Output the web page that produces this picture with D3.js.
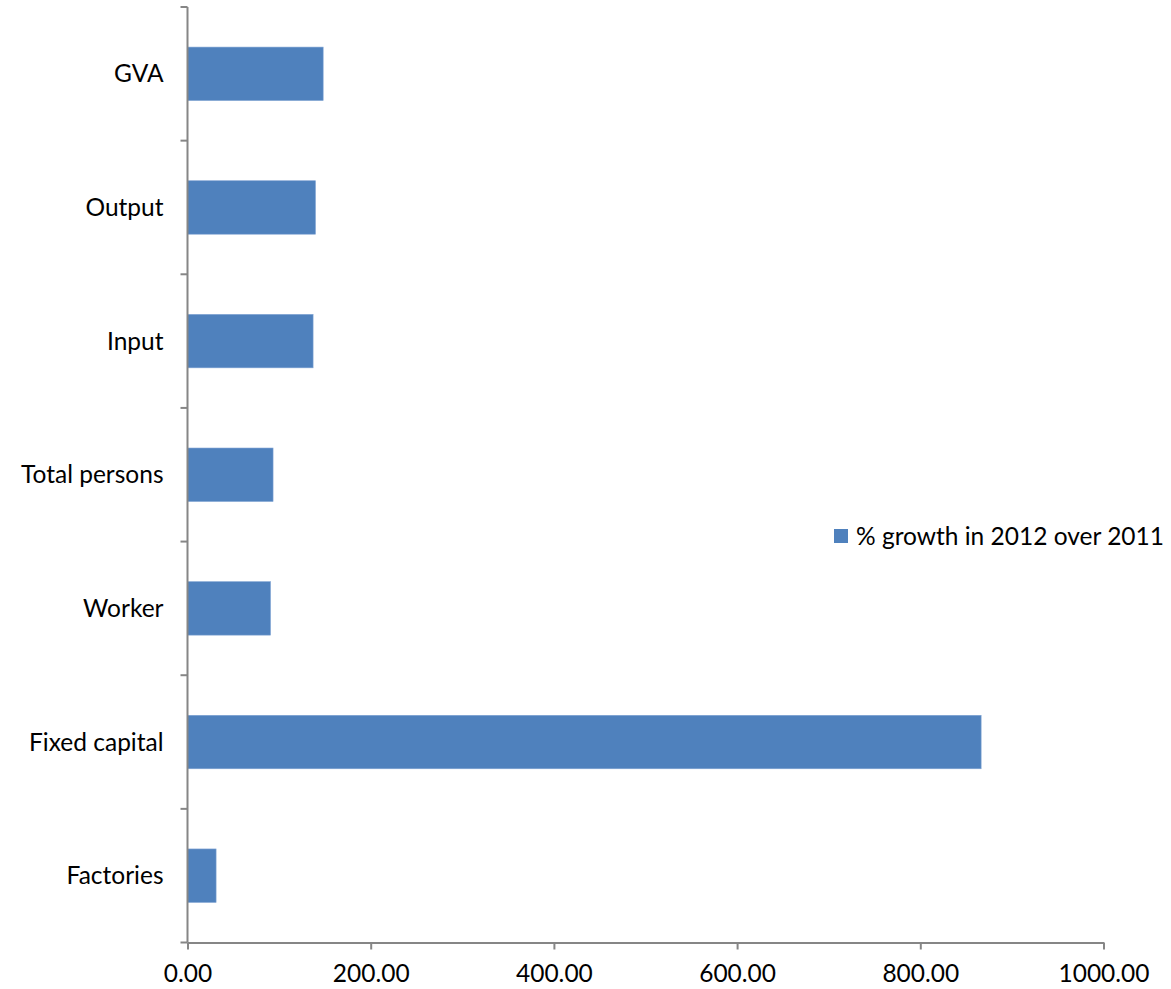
<!DOCTYPE html>
<html>
<head>
<meta charset="utf-8">
<script src="https://cdn.jsdelivr.net/npm/d3@7"></script>
<style>
  html, body { margin: 0; padding: 0; background: #ffffff; }
  svg text { font-family: Lato, "Open Sans", sans-serif; fill: #000; }
</style>
</head>
<body>
<svg id="chart" width="1171" height="989"></svg>
<script>
// Categories listed bottom-to-top as in the source table
const categories = ["Factories", "Fixed capital", "Worker", "Total persons", "Input", "Output", "GVA"];
const growth2012 = [31.2, 866.4, 90.6, 93.4, 137.1, 139.7, 148.1];
const seriesName = "% growth in 2012 over 2011";
const xTicks = [0, 200, 400, 600, 800, 1000];

const axisColor = "#868686";
const barColor = "#4F81BD";
const fontSize = 24.5;

const svg = d3.select("#chart");
const plot = { left: 187.5, right: 1103.5, top: 7, bottom: 942.5 };

const x = d3.scaleLinear().domain([0, 1000]).range([plot.left, plot.right]);
const y = d3.scaleBand()
  .domain(categories.slice().reverse())
  .range([plot.top, plot.bottom])
  .paddingInner(0.6)
  .paddingOuter(0.3);

const data = categories.map((c, i) => ({ cat: c, v: growth2012[i] }));

// Bars
svg.append("g").selectAll("rect")
  .data(data)
  .join("rect")
  .attr("x", x(0))
  .attr("y", d => y(d.cat))
  .attr("width", d => x(d.v) - x(0))
  .attr("height", y.bandwidth())
  .attr("fill", barColor)
  .attr("stroke", "#7fa3d3")
  .attr("stroke-width", 0.6);

// Category axis: line with ticks on band boundaries
const yAxis = svg.append("g");
yAxis.append("line")
  .attr("x1", x(0)).attr("x2", x(0))
  .attr("y1", plot.top).attr("y2", plot.bottom)
  .attr("stroke", axisColor).attr("stroke-width", 2);
const boundaries = d3.range(categories.length + 1).map(i => y.range()[0] + i * y.step());
yAxis.selectAll("line.tick")
  .data(boundaries)
  .join("line")
  .attr("class", "tick")
  .attr("x1", x(0) - 7).attr("x2", x(0))
  .attr("y1", d => d).attr("y2", d => d)
  .attr("stroke", axisColor).attr("stroke-width", 2);
yAxis.selectAll("text")
  .data(categories)
  .join("text")
  .attr("x", x(0) - 24)
  .attr("y", d => y(d) + y.bandwidth() / 2)
  .attr("dy", "0.35em")
  .attr("text-anchor", "end")
  .attr("font-size", fontSize)
  .text(d => d);

// Value axis
const xAxis = svg.append("g")
  .attr("transform", `translate(0,${plot.bottom})`)
  .call(d3.axisBottom(x).tickValues(xTicks).tickFormat(d3.format(".2f")).tickSizeInner(7).tickSizeOuter(0).tickPadding(15));
xAxis.select(".domain").attr("stroke", axisColor).attr("stroke-width", 2);
xAxis.selectAll(".tick line").attr("stroke", axisColor).attr("stroke-width", 2);
xAxis.selectAll(".tick text")
  .attr("font-size", fontSize)
  .attr("fill", "#000")
  .style("font-family", "Lato, 'Open Sans', sans-serif");

// Legend
const legend = svg.append("g").attr("transform", "translate(834,529)");
legend.append("rect").attr("width", 14).attr("height", 14).attr("fill", barColor);
legend.append("text")
  .attr("x", 22).attr("y", 7).attr("dy", "0.35em")
  .attr("font-size", fontSize)
  .text(seriesName);
</script>
</body>
</html>
